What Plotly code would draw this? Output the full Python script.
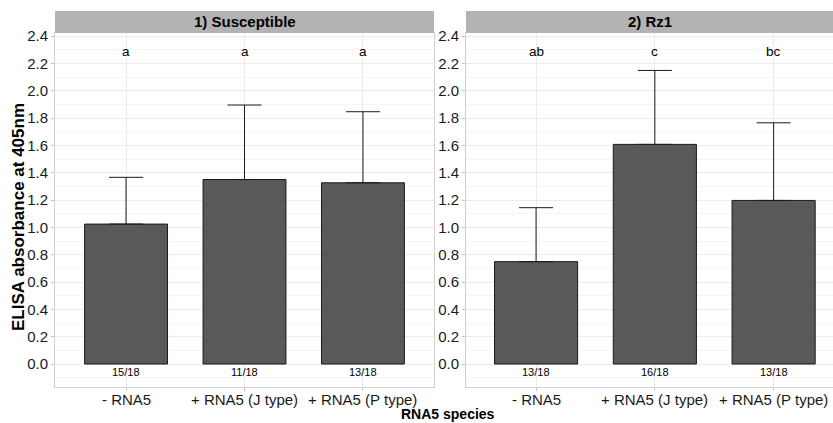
import plotly.graph_objects as go

categories = ["- RNA5", "+ RNA5 (J type)", "+ RNA5 (P type)"]
panel_titles = ["1) Susceptible", "2) Rz1"]
means_sus = [1.024, 1.350, 1.326]
upper_sus = [1.366, 1.895, 1.846]
means_rz1 = [0.749, 1.607, 1.197]
upper_rz1 = [1.144, 2.148, 1.765]
letters_sus = ["a", "a", "a"]
letters_rz1 = ["ab", "c", "bc"]
counts_sus = ["15/18", "11/18", "13/18"]
counts_rz1 = ["13/18", "16/18", "13/18"]
letter_y = 2.29
count_y = -0.06
y_ticks = [0.0, 0.2, 0.4, 0.6, 0.8, 1.0, 1.2, 1.4, 1.6, 1.8, 2.0, 2.2, 2.4]

W, H = 833, 423
FONT = "Liberation Sans, Arial, sans-serif"

fig = go.Figure()
panels = [
    (means_sus, upper_sus, letters_sus, counts_sus, "x", "y"),
    (means_rz1, upper_rz1, letters_rz1, counts_rz1, "x2", "y2"),
]
for means, upper, letters, counts, xa, ya in panels:
    fig.add_trace(go.Bar(
        x=categories, y=means, xaxis=xa, yaxis=ya, width=0.7,
        marker=dict(color="#595959", line=dict(color="#1a1a1a", width=1)),
        error_y=dict(type="data", symmetric=False,
                     array=[u - m for u, m in zip(upper, means)],
                     arrayminus=[0, 0, 0], color="#1a1a1a", thickness=1, width=17),
        showlegend=False, hoverinfo="skip",
    ))
    for c, l, n in zip(categories, letters, counts):
        fig.add_annotation(x=c, y=letter_y, xref=xa, yref=ya, text=l, showarrow=False,
                           xanchor="center", yanchor="middle",
                           font=dict(family=FONT, size=13.5, color="black"))
        fig.add_annotation(x=c, y=count_y, xref=xa, yref=ya, text=n, showarrow=False,
                           xanchor="center", yanchor="middle",
                           font=dict(family=FONT, size=11, color="black"))
        # category tick labels
        fig.add_annotation(x=c, y=(H - 399) / H, xref=xa, yref="paper", text=c,
                           showarrow=False, xanchor="center", yanchor="middle",
                           font=dict(family=FONT, size=15, color="#1a1a1a"))

y0, y1 = (H - 387) / H, (H - 33) / H
yrange = [-0.168, 2.422]

def xaxis(dom, rng):
    return dict(domain=dom, range=rng, type="category", showgrid=True, gridcolor="#ebebeb",
                gridwidth=1, showline=True, mirror=True, linecolor="#d0d0d0", linewidth=1,
                ticks="outside", ticklen=3, tickcolor="#c0c0c0", showticklabels=False,
                zeroline=False, fixedrange=True, automargin=False)

def yaxis(dom, anchor):
    return dict(domain=dom, range=yrange, anchor=anchor, tickvals=y_ticks,
                ticktext=[f"{v:.1f}" for v in y_ticks], showgrid=True, gridcolor="#ebebeb",
                gridwidth=1, minor=dict(dtick=0.1, tick0=0.1, showgrid=True,
                                        gridcolor="#f5f5f5", gridwidth=1),
                showline=True, mirror=True, linecolor="#d0d0d0", linewidth=1,
                ticks="outside", ticklen=3, tickcolor="#c0c0c0",
                tickfont=dict(family=FONT, size=15, color="#1a1a1a"), zeroline=False,
                fixedrange=True, automargin=False)

p1 = [55 / W, 434 / W]
p2 = [466 / W, 1.0]
fig.update_layout(
    width=W, height=H, margin=dict(l=0, r=0, t=0, b=0, pad=0, autoexpand=False),
    paper_bgcolor="white", plot_bgcolor="white", bargap=0.3,
    xaxis=xaxis(p1, [-0.6, 2.6]) | dict(anchor="y"),
    xaxis2=xaxis(p2, [-0.59, 2.5]) | dict(anchor="y2"),
    yaxis=yaxis([y0, y1], "x"),
    yaxis2=yaxis([y0, y1], "x2"),
)

# strips
for dom, title in zip([p1, p2], panel_titles):
    fig.add_shape(type="rect", xref="paper", yref="paper", x0=dom[0], x1=dom[1],
                  y0=(H - 33) / H, y1=(H - 11) / H, fillcolor="#b3b3b3", line=dict(width=0),
                  layer="above")
    fig.add_annotation(xref="paper", yref="paper", x=(dom[0] + dom[1]) / 2,
                       y=(H - 22) / H, text=f"<b>{title}</b>", showarrow=False,
                       xanchor="center", yanchor="middle",
                       font=dict(family=FONT, size=15, color="black"))

fig.add_annotation(xref="paper", yref="paper", x=448 / W, y=(H - 414) / H,
                   text="<b>RNA5 species</b>", showarrow=False,
                   xanchor="center", yanchor="middle",
                   font=dict(family=FONT, size=14, color="black"))
fig.add_annotation(xref="paper", yref="paper", x=19 / W, y=(H - 217) / H,
                   text="<b>ELISA absorbance at 405nm</b>", showarrow=False, textangle=-90,
                   xanchor="center", yanchor="middle",
                   font=dict(family=FONT, size=17, color="black"))

fig.write_html("out.html")
